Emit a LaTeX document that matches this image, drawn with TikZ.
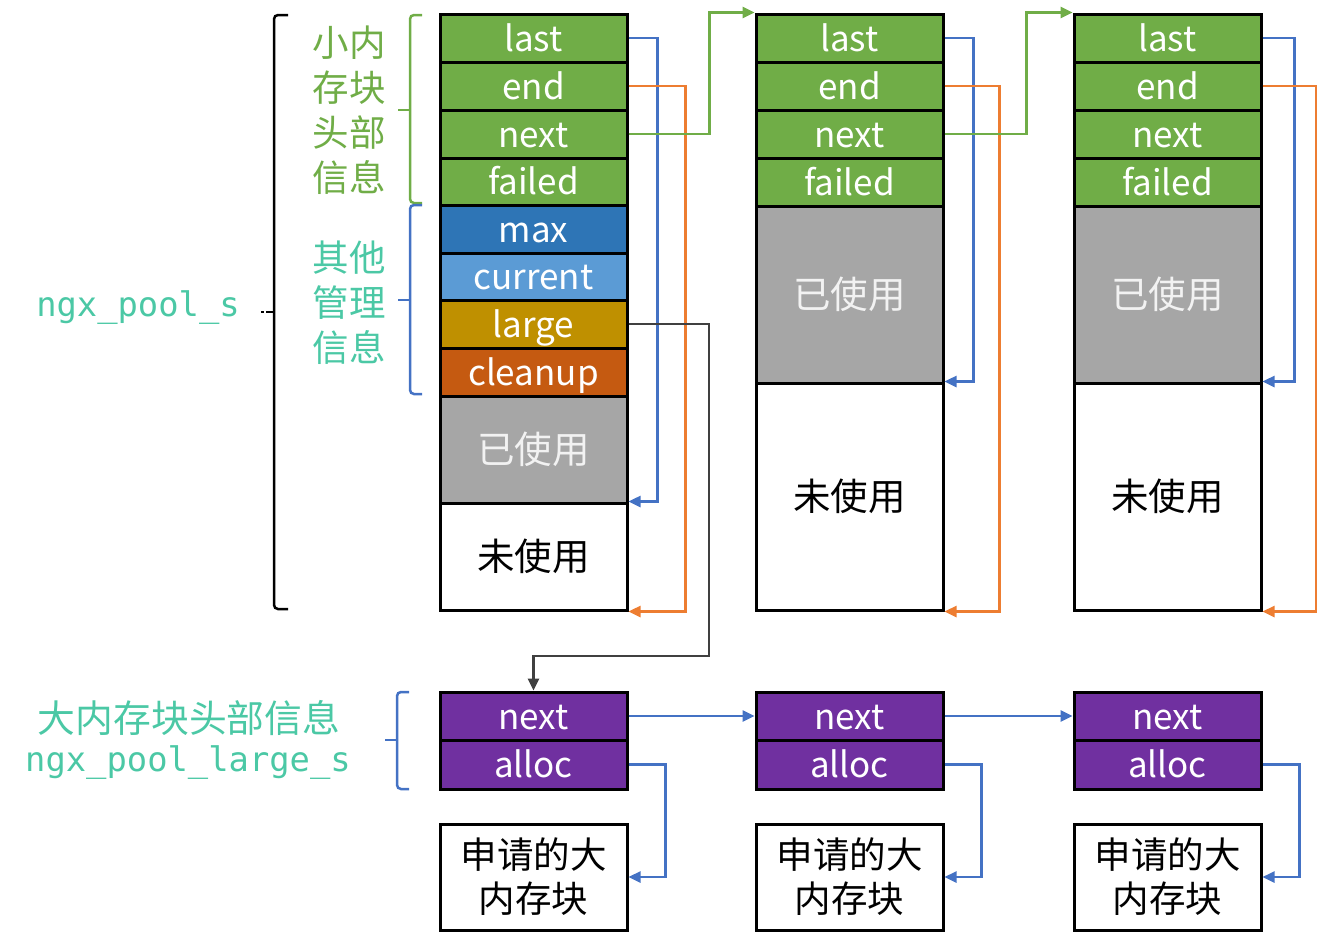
\documentclass[tikz,border=0pt]{standalone}
\usepackage{fontspec}
\setmainfont{Noto Sans CJK SC}
\newfontfamily\monof{DejaVu Sans Mono}
\usetikzlibrary{arrows.meta,calc}
\definecolor{cgreen}{HTML}{70AD47}
\definecolor{cdblue}{HTML}{2E75B6}
\definecolor{clblue}{HTML}{5B9BD5}
\definecolor{cgold}{HTML}{BF9000}
\definecolor{corange}{HTML}{C55A11}
\definecolor{cgray}{HTML}{A6A6A6}
\definecolor{cpurple}{HTML}{7030A0}
\definecolor{lblue}{HTML}{4472C4}
\definecolor{lorange}{HTML}{ED7D31}
\definecolor{lgreen}{HTML}{70AD47}
\definecolor{ldark}{HTML}{404040}
\definecolor{tteal}{HTML}{4BC8A5}
\begin{document}
\begin{tikzpicture}[x=1pt,y=-1pt,
  field/.style={draw=black,line width=3pt,text=white,minimum width=187pt,inner sep=0pt,
    text height=32pt,text depth=6pt,font=\fontsize{35}{38}\selectfont},
  cjkbox/.style={draw=black,line width=3pt,minimum width=187pt,inner sep=0pt,
    align=center,font=\fontsize{37.5}{44}\selectfont},
  conn/.style={line width=2.5pt,-{Triangle[length=12pt,width=11pt]}},
  plain/.style={line width=2.5pt},
  brace/.style={line width=2.5pt,rounded corners=4pt},
  side/.style={align=center,font=\fontsize{36.5}{45}\selectfont},
  mono/.style={text=tteal,font=\monof\fontsize{33.8}{40}\selectfont}]
\useasboundingbox (0,0) rectangle (1317,945);
% column 1
\node[field,fill=cgreen,minimum height=48pt] (c1last) at (533.5,38) {last};
\node[field,fill=cgreen,minimum height=48pt] (c1end) at (533.5,86) {end};
\node[field,fill=cgreen,minimum height=48pt] (c1next) at (533.5,134) {next};
\node[field,fill=cgreen,minimum height=47pt] (c1failed) at (533.5,181.5) {failed};
\node[field,fill=cdblue,minimum height=48pt] (c1max) at (533.5,229) {max};
\node[field,fill=clblue,minimum height=47pt] (c1current) at (533.5,276.5) {current};
\node[field,fill=cgold,minimum height=48pt] (c1large) at (533.5,324) {large};
\node[field,fill=corange,minimum height=48pt] (c1cleanup) at (533.5,372) {cleanup};
\node[cjkbox,fill=cgray,text=white!95!black,minimum height=107pt] (c1used) at (533.5,449.5) {已使用};
\node[cjkbox,fill=white,minimum height=107pt] (c1unused) at (533.5,556.5) {未使用};
% columns 2 and 3
\foreach \n/\x in {2/849.5,3/1167.5}{
  \node[field,fill=cgreen,minimum height=48pt] (c\n last) at (\x,38) {last};
  \node[field,fill=cgreen,minimum height=48pt] (c\n end) at (\x,86) {end};
  \node[field,fill=cgreen,minimum height=48pt] (c\n next) at (\x,134) {next};
  \node[field,fill=cgreen,minimum height=48pt] (c\n failed) at (\x,182) {failed};
  \node[cjkbox,fill=cgray,text=white!95!black,minimum height=177pt] (c\n used) at (\x,294.5) {已使用};
  \node[cjkbox,fill=white,minimum height=227pt] (c\n unused) at (\x,496.5) {未使用};
}
% large blocks
\foreach \n/\x in {1/533.5,2/849.5,3/1167.5}{
  \node[field,fill=cpurple,minimum height=48pt] (l\n next) at (\x,716) {next};
  \node[field,fill=cpurple,minimum height=49pt] (l\n alloc) at (\x,764.5) {alloc};
  \node[cjkbox,fill=white,minimum height=106pt,font=\fontsize{36.5}{44}\selectfont] (l\n big) at (\x,877) {申请的大\\内存块};
}
% connectors small pool
\draw[conn,lblue] (c1last.east) -- ++(29,0) |- (c1unused.north east);
\draw[conn,lorange] (c1end.east) -- ++(57,0) |- (c1unused.south east);
\draw[conn,lgreen] (c1next.east) -- ++(81,0) |- (c2last.north west);
\draw[conn,lblue] (c2last.east) -- ++(29,0) |- (c2unused.north east);
\draw[conn,lorange] (c2end.east) -- ++(55,0) |- (c2unused.south east);
\draw[conn,lgreen] (c2next.east) -- ++(82,0) |- (c3last.north west);
\draw[conn,lblue] (c3last.east) -- ++(32,0) |- (c3unused.north east);
\draw[conn,lorange] (c3end.east) -- ++(54,0) |- (c3unused.south east);
% large link
\coordinate (lk) at (709,656);
\draw[conn,ldark] (c1large.east) -| (lk) -| (l1next.north);
\draw[conn,lblue] (l1next.east) -- (l2next.west);
\draw[conn,lblue] (l2next.east) -- (l3next.west);
\foreach \n in {1,2,3}{
  \draw[conn,lblue] (l\n alloc.east) -- ++(37,0) |- (l\n big.east);
}
% braces
\draw[brace,black] (288,15) -- (274,15) -- (274,609) -- (288,609);
\draw[plain,black] (274,312) -- (266,312);
\draw[plain,black] (261,312) -- (264,312);
\draw[brace,cgreen] (422,15) -- (410,15) -- (410,203) -- (422,203);
\draw[plain,cgreen] (410,110) -- (398,110);
\draw[brace,lblue] (422,205) -- (410,205) -- (410,394) -- (422,394);
\draw[plain,lblue] (410,300) -- (398,300);
\draw[brace,lblue] (409,692) -- (397,692) -- (397,789) -- (409,789);
\draw[plain,lblue] (397,740) -- (385,740);
% side labels
\node[side,text=cgreen] (tsmall) at (349,110) {小内\\存块\\头部\\信息};
\node[side,text=tteal] (tother) at (349,303) {其他\\管理\\信息};
\node[mono] (tpool) at (138,308) {ngx\_pool\_s};
\node[side,text=tteal,font=\fontsize{37.8}{45}\selectfont] (tlarge) at (189,718) {大内存块头部信息};
\node[mono] (tlpool) at (188,763) {ngx\_pool\_large\_s};
\end{tikzpicture}
\end{document}
